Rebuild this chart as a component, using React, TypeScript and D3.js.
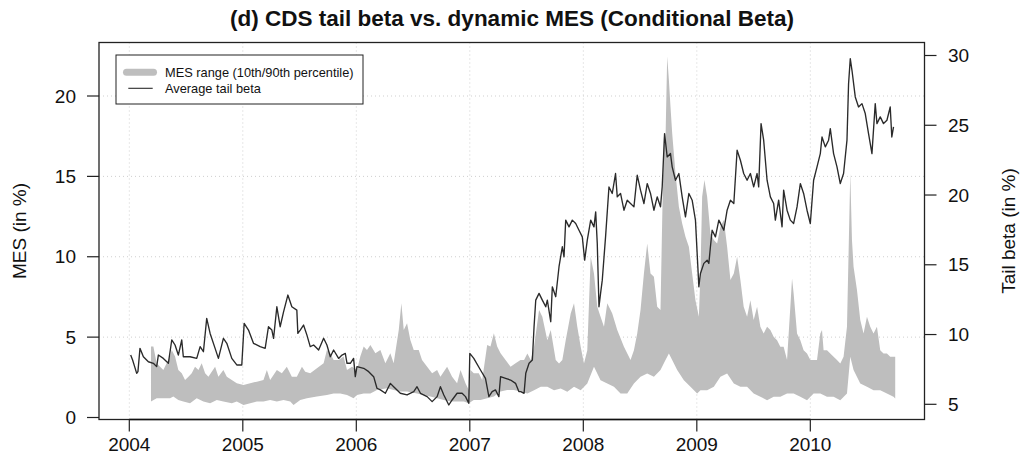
import React from "react";
import * as d3 from "d3";

const W = 1021;
const H = 471;

const yearTicks = [2004, 2005, 2006, 2007, 2008, 2009, 2010];
const mesTicks = [0, 5, 10, 15, 20];
const betaTicks = [5, 10, 15, 20, 25, 30];

// Average tail beta (in %), time in decimal years
const betaYear = [
  2004.012, 2004.029, 2004.047, 2004.065, 2004.076, 2004.094, 2004.124, 2004.168, 2004.212, 2004.241,
  2004.256, 2004.300, 2004.344, 2004.374, 2004.403, 2004.432, 2004.462, 2004.476, 2004.535, 2004.594,
  2004.624, 2004.653, 2004.682, 2004.712, 2004.756, 2004.785, 2004.829, 2004.859, 2004.903, 2004.947,
  2004.991, 2005.012, 2005.050, 2005.094, 2005.153, 2005.197, 2005.226, 2005.256, 2005.271, 2005.300,
  2005.329, 2005.359, 2005.397, 2005.432, 2005.476, 2005.485, 2005.506, 2005.535, 2005.565, 2005.594,
  2005.624, 2005.668, 2005.712, 2005.741, 2005.771, 2005.800, 2005.844, 2005.874, 2005.903, 2005.918,
  2005.947, 2005.976, 2005.991, 2006.006, 2006.065, 2006.109, 2006.153, 2006.182, 2006.212, 2006.256,
  2006.300, 2006.329, 2006.388, 2006.447, 2006.506, 2006.535, 2006.565, 2006.624, 2006.668, 2006.712,
  2006.741, 2006.771, 2006.815, 2006.844, 2006.888, 2006.932, 2006.962, 2006.991, 2007.000, 2007.035,
  2007.094, 2007.138, 2007.168, 2007.197, 2007.226, 2007.256, 2007.271, 2007.315, 2007.359, 2007.403,
  2007.432, 2007.449, 2007.478, 2007.493, 2007.522, 2007.551, 2007.566, 2007.581, 2007.610, 2007.639,
  2007.669, 2007.683, 2007.713, 2007.727, 2007.757, 2007.786, 2007.815, 2007.830, 2007.845, 2007.874,
  2007.903, 2007.933, 2007.962, 2007.991, 2008.012, 2008.035, 2008.065, 2008.094, 2008.109, 2008.123,
  2008.138, 2008.152, 2008.167, 2008.196, 2008.226, 2008.255, 2008.284, 2008.299, 2008.328, 2008.358,
  2008.387, 2008.416, 2008.446, 2008.475, 2008.504, 2008.534, 2008.563, 2008.592, 2008.622, 2008.651,
  2008.680, 2008.695, 2008.716, 2008.739, 2008.768, 2008.783, 2008.812, 2008.842, 2008.871, 2008.900,
  2008.930, 2008.959, 2008.988, 2009.018, 2009.032, 2009.062, 2009.091, 2009.106, 2009.120, 2009.135,
  2009.164, 2009.194, 2009.238, 2009.267, 2009.296, 2009.326, 2009.355, 2009.384, 2009.413, 2009.443,
  2009.472, 2009.501, 2009.531, 2009.545, 2009.566, 2009.589, 2009.619, 2009.648, 2009.677, 2009.692,
  2009.721, 2009.751, 2009.765, 2009.795, 2009.824, 2009.853, 2009.883, 2009.912, 2009.941, 2009.971,
  2010.000, 2010.029, 2010.059, 2010.088, 2010.103, 2010.132, 2010.161, 2010.176, 2010.205, 2010.235,
  2010.264, 2010.293, 2010.323, 2010.337, 2010.352, 2010.367, 2010.396, 2010.425, 2010.455, 2010.484,
  2010.513, 2010.543, 2010.572, 2010.587, 2010.616, 2010.645, 2010.675, 2010.704, 2010.718, 2010.733,
];
const betaValue = [
  8.53, 8.17, 7.70, 7.22, 7.34, 9.01, 8.41, 8.05, 7.94, 7.70,
  8.53, 8.29, 7.94, 9.61, 9.25, 8.53, 9.61, 8.41, 8.41, 8.29,
  9.13, 8.77, 11.16, 10.08, 9.01, 8.29, 9.73, 9.37, 8.29, 7.82,
  7.82, 10.80, 10.32, 9.37, 9.13, 9.01, 10.56, 10.32, 9.73, 11.99,
  10.56, 11.63, 12.83, 11.99, 11.75, 10.08, 10.32, 10.68, 9.96, 9.13,
  9.25, 8.89, 9.73, 9.25, 8.41, 8.89, 8.29, 8.53, 8.65, 7.94,
  7.94, 8.29, 6.98, 7.70, 7.58, 7.34, 6.98, 6.15, 6.03, 5.79,
  6.50, 6.26, 5.79, 5.67, 5.91, 6.26, 5.79, 5.55, 5.19, 5.55,
  6.26, 5.67, 4.95, 5.31, 5.79, 5.79, 5.55, 5.07, 8.65, 8.29,
  7.46, 6.86, 5.55, 5.91, 6.03, 5.55, 6.98, 6.86, 6.74, 6.50,
  5.91, 5.91, 5.79, 7.22, 7.94, 8.17, 10.56, 12.47, 12.95, 12.47,
  11.99, 12.47, 10.92, 13.42, 12.71, 14.86, 16.29, 15.57, 18.20, 17.72,
  18.20, 17.96, 17.48, 17.00, 15.33, 16.77, 18.20, 17.72, 18.79, 16.53,
  11.99, 12.95, 13.90, 17.00, 20.58, 20.11, 21.54, 19.87, 20.11, 18.91,
  19.63, 19.39, 19.15, 21.42, 20.35, 19.39, 20.82, 20.11, 18.91, 19.87,
  19.15, 20.58, 24.40, 22.73, 22.97, 22.02, 21.06, 21.54, 19.87, 18.44,
  20.11, 19.63, 18.20, 13.42, 14.38, 15.10, 15.33, 15.10, 16.29, 17.48,
  17.00, 18.20, 17.48, 18.91, 19.63, 19.39, 23.21, 22.49, 21.54, 21.06,
  21.54, 20.58, 21.54, 20.58, 25.12, 23.93, 21.06, 19.87, 19.39, 18.20,
  19.63, 17.72, 20.35, 18.91, 18.20, 17.96, 19.15, 20.82, 20.11, 18.91,
  17.96, 21.06, 22.02, 22.97, 24.16, 23.45, 23.93, 24.76, 22.97, 22.02,
  20.82, 21.54, 23.93, 27.98, 29.77, 28.94, 27.03, 26.31, 26.55, 25.84,
  24.40, 22.97, 26.55, 25.12, 25.60, 25.12, 25.36, 26.31, 24.16, 24.88,
];

// MES 90th percentile (upper edge of range, in %)
const mesHighYear = [
  2004.191, 2004.212, 2004.241, 2004.271, 2004.300, 2004.329, 2004.359, 2004.374, 2004.403, 2004.432,
  2004.462, 2004.491, 2004.521, 2004.550, 2004.579, 2004.609, 2004.638, 2004.668, 2004.697, 2004.756,
  2004.785, 2004.829, 2004.859, 2004.903, 2004.947, 2005.006, 2005.065, 2005.124, 2005.182, 2005.212,
  2005.241, 2005.300, 2005.344, 2005.388, 2005.432, 2005.476, 2005.521, 2005.550, 2005.594, 2005.653,
  2005.712, 2005.741, 2005.771, 2005.800, 2005.844, 2005.888, 2005.918, 2005.962, 2006.006, 2006.035,
  2006.065, 2006.094, 2006.124, 2006.168, 2006.212, 2006.256, 2006.300, 2006.329, 2006.374, 2006.397,
  2006.418, 2006.447, 2006.476, 2006.506, 2006.550, 2006.579, 2006.624, 2006.668, 2006.712, 2006.741,
  2006.800, 2006.844, 2006.888, 2006.918, 2006.962, 2006.991, 2007.006, 2007.035, 2007.079, 2007.109,
  2007.153, 2007.182, 2007.212, 2007.241, 2007.271, 2007.315, 2007.359, 2007.403, 2007.447, 2007.478,
  2007.507, 2007.537, 2007.566, 2007.610, 2007.639, 2007.683, 2007.713, 2007.757, 2007.786, 2007.815,
  2007.845, 2007.889, 2007.918, 2007.947, 2007.977, 2008.006, 2008.035, 2008.065, 2008.094, 2008.123,
  2008.152, 2008.182, 2008.211, 2008.255, 2008.299, 2008.358, 2008.416, 2008.446, 2008.475, 2008.504,
  2008.534, 2008.563, 2008.592, 2008.622, 2008.651, 2008.680, 2008.695, 2008.710, 2008.724, 2008.739,
  2008.754, 2008.768, 2008.783, 2008.812, 2008.842, 2008.871, 2008.900, 2008.930, 2008.959, 2008.988,
  2009.018, 2009.032, 2009.047, 2009.067, 2009.091, 2009.120, 2009.150, 2009.179, 2009.208, 2009.238,
  2009.267, 2009.296, 2009.326, 2009.355, 2009.384, 2009.413, 2009.443, 2009.472, 2009.501, 2009.531,
  2009.560, 2009.589, 2009.619, 2009.648, 2009.677, 2009.707, 2009.736, 2009.765, 2009.795, 2009.824,
  2009.839, 2009.853, 2009.883, 2009.912, 2009.941, 2009.971, 2010.000, 2010.029, 2010.059, 2010.088,
  2010.103, 2010.117, 2010.147, 2010.176, 2010.205, 2010.235, 2010.264, 2010.293, 2010.323, 2010.337,
  2010.352, 2010.367, 2010.381, 2010.411, 2010.440, 2010.469, 2010.499, 2010.528, 2010.557, 2010.587,
  2010.616, 2010.645, 2010.675, 2010.704, 2010.733, 2010.748,
];
const mesHigh = [
  4.41, 4.41, 3.37, 3.16, 2.96, 3.37, 3.79, 4.20, 3.79, 2.96,
  2.75, 2.33, 2.54, 2.75, 3.16, 2.96, 3.37, 2.75, 2.54, 3.16,
  2.54, 2.96, 2.54, 2.33, 2.13, 2.02, 2.13, 2.23, 2.33, 2.96,
  2.33, 2.96, 2.75, 3.16, 2.54, 2.54, 3.16, 2.85, 2.75, 3.06,
  3.37, 4.20, 3.99, 3.58, 3.58, 3.79, 2.96, 3.16, 2.96, 3.79,
  4.41, 4.20, 4.51, 3.99, 4.20, 3.37, 3.99, 3.37, 5.45, 7.11,
  5.45, 5.86, 4.82, 4.20, 4.20, 3.58, 3.16, 2.75, 2.96, 2.54,
  3.16, 2.54, 2.13, 2.96, 2.13, 1.71, 2.96, 2.75, 2.75, 2.33,
  4.51, 4.41, 5.24, 4.41, 3.99, 3.58, 3.16, 3.37, 3.58, 3.57,
  3.98, 3.57, 4.40, 6.68, 6.27, 4.81, 5.44, 3.57, 3.36, 3.57,
  4.81, 6.47, 7.10, 5.64, 4.40, 3.36, 4.19, 10.00, 8.96, 6.89,
  6.27, 5.64, 7.10, 6.47, 5.44, 4.40, 3.57, 4.19, 5.23, 6.68,
  8.96, 10.83, 8.96, 8.76, 6.89, 6.68, 12.28, 17.47, 17.26, 22.45,
  21.00, 19.34, 17.68, 15.19, 13.11, 12.07, 11.24, 10.62, 8.96, 7.30,
  6.27, 8.96, 13.73, 14.77, 13.73, 11.45, 11.04, 10.83, 11.87, 12.28,
  10.62, 8.55, 8.96, 10.00, 8.55, 6.89, 6.27, 7.30, 6.06, 6.89,
  5.64, 5.23, 5.64, 5.44, 5.02, 4.81, 4.40, 4.40, 3.57, 6.89,
  8.65, 7.72, 5.23, 4.81, 4.19, 3.98, 3.57, 3.57, 3.57, 5.23,
  5.44, 4.19, 4.19, 3.98, 3.78, 3.57, 3.36, 3.78, 5.64, 10.21,
  15.19, 11.04, 9.38, 7.93, 6.06, 5.23, 6.27, 5.64, 5.23, 5.64,
  4.19, 3.98, 3.98, 3.78, 3.78, 3.78,
];

// MES 10th percentile (lower edge of range, in %)
const mesLowYear = [
  2004.191, 2004.241, 2004.300, 2004.359, 2004.388, 2004.432, 2004.476, 2004.535, 2004.594, 2004.653,
  2004.712, 2004.771, 2004.829, 2004.903, 2004.947, 2005.006, 2005.065, 2005.124, 2005.182, 2005.241,
  2005.300, 2005.359, 2005.418, 2005.447, 2005.506, 2005.565, 2005.653, 2005.741, 2005.800, 2005.859,
  2005.918, 2005.976, 2006.006, 2006.065, 2006.124, 2006.182, 2006.271, 2006.329, 2006.388, 2006.447,
  2006.535, 2006.594, 2006.653, 2006.712, 2006.771, 2006.829, 2006.888, 2006.947, 2006.991, 2007.035,
  2007.094, 2007.153, 2007.212, 2007.271, 2007.329, 2007.388, 2007.447, 2007.507, 2007.566, 2007.625,
  2007.683, 2007.742, 2007.801, 2007.859, 2007.918, 2007.977, 2008.035, 2008.094, 2008.152, 2008.211,
  2008.270, 2008.328, 2008.387, 2008.446, 2008.504, 2008.563, 2008.622, 2008.680, 2008.724, 2008.754,
  2008.783, 2008.827, 2008.886, 2008.944, 2009.003, 2009.032, 2009.091, 2009.150, 2009.208, 2009.267,
  2009.326, 2009.384, 2009.443, 2009.501, 2009.560, 2009.619, 2009.677, 2009.736, 2009.795, 2009.853,
  2009.912, 2009.971, 2010.029, 2010.088, 2010.147, 2010.205, 2010.264, 2010.323, 2010.352, 2010.381,
  2010.440, 2010.499, 2010.557, 2010.616, 2010.675, 2010.733, 2010.748,
];
const mesLow = [
  0.99, 1.19, 1.19, 1.19, 1.30, 1.09, 0.99, 0.88, 1.19, 0.99,
  0.88, 1.09, 0.99, 0.88, 0.99, 0.78, 0.88, 0.99, 0.99, 1.09,
  0.99, 1.09, 0.99, 0.78, 1.09, 1.19, 1.30, 1.40, 1.50, 1.50,
  1.40, 1.19, 1.40, 1.50, 1.50, 1.71, 1.82, 1.71, 1.61, 1.61,
  1.50, 1.40, 1.30, 1.19, 1.09, 0.99, 0.99, 0.99, 0.88, 1.09,
  1.09, 1.19, 1.30, 1.61, 1.71, 1.71, 1.61, 1.49, 1.70, 1.91,
  1.91, 1.70, 1.80, 1.60, 1.91, 1.70, 2.12, 3.15, 2.32, 2.12,
  1.91, 1.49, 1.49, 2.12, 2.53, 2.74, 2.53, 2.95, 3.57, 3.98,
  3.57, 2.95, 2.32, 1.91, 1.49, 1.70, 1.70, 1.91, 2.53, 2.74,
  2.12, 1.91, 1.91, 1.49, 1.29, 1.08, 1.29, 1.29, 1.49, 1.49,
  1.29, 1.08, 1.49, 1.49, 1.29, 1.29, 1.08, 1.49, 3.78, 2.95,
  2.12, 1.91, 1.70, 1.70, 1.49, 1.29, 1.18,
];

const FONT = "'Liberation Sans', Arial, Helvetica, sans-serif";

export default function App() {
  const left = 99;
  const right = 924.5;
  const top = 42.5;
  const bottom = 419.5;

  const x = d3.scaleLinear().domain([2003.733, 2011.006]).range([left, right]);
  const yMes = d3.scaleLinear().domain([0, 20]).range([417.5, 96]);
  const yBeta = d3.scaleLinear().domain([5, 30]).range([404.3, 55.5]);

  const upper = mesHighYear.map((t, i) => [x(t), yMes(mesHigh[i])] as [number, number]);
  const lower = mesLowYear.map((t, i) => [x(t), yMes(mesLow[i])] as [number, number]);
  const bandPath = d3.line()([...upper, ...lower.slice().reverse()]) + "Z";

  const betaLine = d3
    .line<number>()
    .x((t) => x(t))
    .y((_, i) => yBeta(betaValue[i]))(betaYear);

  const gridColor = "#cfcfcf";

  return (
    <svg width={W} height={H} style={{ display: "block", position: "absolute", left: 0, top: 0 }} fontFamily={FONT}>
      <rect x={0} y={0} width={W} height={H} fill="#fff" />
      {/* grid */}
      {yearTicks.map((t) => (
        <line key={"gx" + t} x1={x(t)} x2={x(t)} y1={top} y2={bottom} stroke={gridColor} strokeDasharray="1,3" />
      ))}
      {mesTicks.filter((v) => v > 0).map((v) => (
        <line key={"gy" + v} x1={left} x2={right} y1={yMes(v)} y2={yMes(v)} stroke={gridColor} strokeDasharray="1,3" />
      ))}
      {/* MES band */}
      <path d={bandPath} fill="#bebebe" stroke="none" />
      {/* tail beta line */}
      <path d={betaLine || ""} fill="none" stroke="#2a2a2a" strokeWidth={1.35} strokeLinejoin="round" />
      {/* box */}
      <rect x={left} y={top} width={right - left} height={bottom - top} fill="none" stroke="#222" strokeWidth={1.3} />
      {/* left axis */}
      {mesTicks.map((v) => (
        <g key={"ml" + v}>
          <line x1={left - 12} x2={left} y1={yMes(v)} y2={yMes(v)} stroke="#222" strokeWidth={1.2} />
          <text x={76} y={yMes(v)} textAnchor="end" dominantBaseline="central" fontSize={19} fill="#111">
            {v}
          </text>
        </g>
      ))}
      {/* right axis */}
      {betaTicks.map((v) => (
        <g key={"br" + v}>
          <line x1={right} x2={right + 12} y1={yBeta(v)} y2={yBeta(v)} stroke="#222" strokeWidth={1.2} />
          <text x={948} y={yBeta(v)} textAnchor="start" dominantBaseline="central" fontSize={19} fill="#111">
            {v}
          </text>
        </g>
      ))}
      {/* bottom axis */}
      <line x1={x(2004)} x2={x(2010)} y1={bottom} y2={bottom} stroke="#111" strokeWidth={1.6} />
      {yearTicks.map((t) => (
        <g key={"xt" + t}>
          <line x1={x(t)} x2={x(t)} y1={bottom} y2={bottom + 12} stroke="#222" strokeWidth={1.2} />
          <text x={x(t)} y={451} textAnchor="middle" fontSize={19} fill="#111">
            {t}
          </text>
        </g>
      ))}
      {/* axis titles */}
      <text transform="translate(19,231) rotate(-90)" textAnchor="middle" dominantBaseline="central" fontSize={19} fill="#111">
        MES (in %)
      </text>
      <text transform="translate(1008,231) rotate(-90)" textAnchor="middle" dominantBaseline="central" fontSize={19} fill="#111">
        Tail beta (in %)
      </text>
      {/* title */}
      <text x={512} y={26} textAnchor="middle" fontSize={22.5} fontWeight="bold" fill="#111">
        (d) CDS tail beta vs. dynamic MES (Conditional Beta)
      </text>
      {/* legend */}
      <rect x={116} y={55} width={247} height={49} fill="#fff" stroke="#222" strokeWidth={1} />
      <line x1={126.5} x2={153.5} y1={72.3} y2={72.3} stroke="#bebebe" strokeWidth={7} strokeLinecap="round" />
      <line x1={128.3} x2={152.7} y1={88.3} y2={88.3} stroke="#2a2a2a" strokeWidth={1.1} />
      <text x={165} y={72.3} dominantBaseline="central" fontSize={12.8} fill="#111">
        MES range (10th/90th percentile)
      </text>
      <text x={165} y={88.3} dominantBaseline="central" fontSize={12.8} fill="#111">
        Average tail beta
      </text>
    </svg>
  );
}
